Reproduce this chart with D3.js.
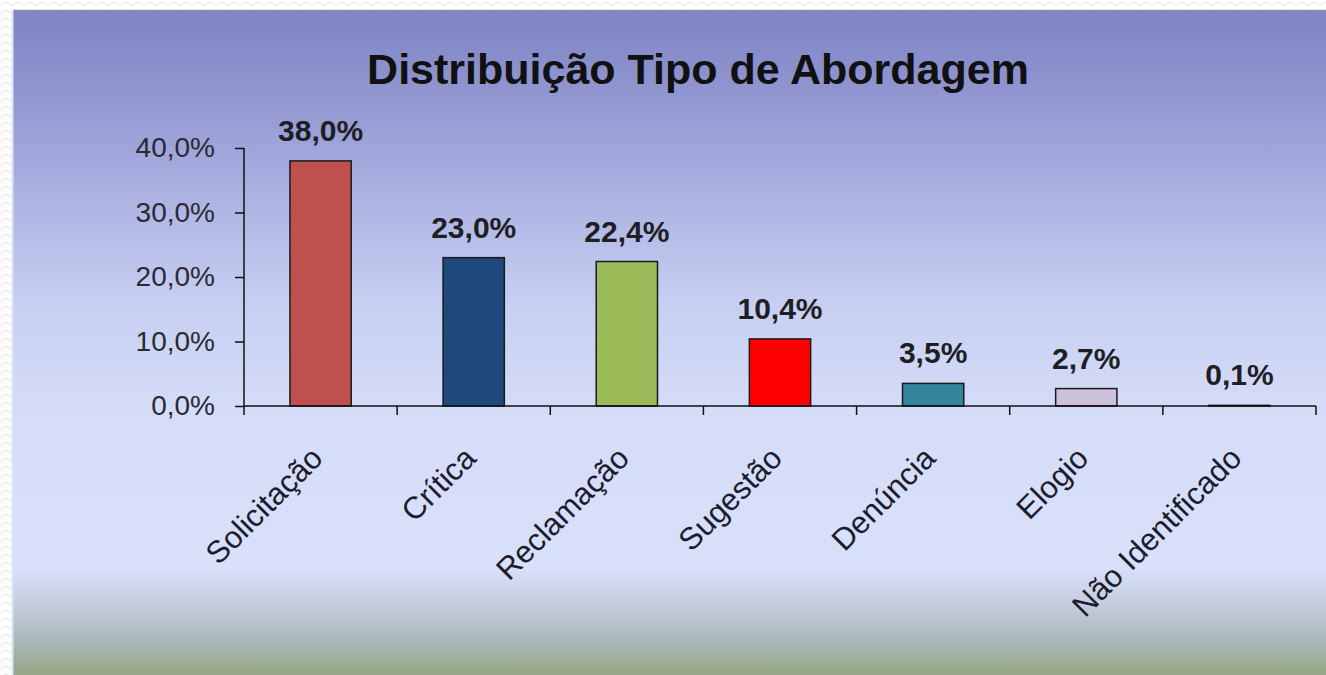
<!DOCTYPE html>
<html>
<head>
<meta charset="utf-8">
<script src="https://cdn.jsdelivr.net/npm/d3@7"></script>
<style>
  body { margin: 0; background: #fff; }
  svg { display: block; font-family: "Liberation Sans", Arial, sans-serif; }
</style>
</head>
<body>
<svg id="chart" width="1326" height="675"></svg>
<script>
// chart data
var categories = ["Solicitação", "Crítica", "Reclamação", "Sugestão", "Denúncia", "Elogio", "Não Identificado"];
var values = [38.0, 23.0, 22.4, 10.4, 3.5, 2.7, 0.1];
var barColors = ["#c0504d", "#1f497d", "#9bbb59", "#ff0000", "#31859c", "#ccc0da", "#000000"];
var yTicks = [0, 10, 20, 30, 40];

var svg = d3.select("#chart");
var defs = svg.append("defs");

// background gradient of the panel
var grad = defs.append("linearGradient")
  .attr("id", "bg")
  .attr("x1", 0).attr("y1", 0).attr("x2", 0).attr("y2", 1);
[[0, "#7e84c4"], [0.14, "#9398d2"], [0.3, "#b0b6e4"], [0.45, "#c8d0f2"], [0.6, "#d4dcf8"],
 [0.84, "#d8e0fa"], [0.89, "#c6cee0"], [0.95, "#aab8b8"], [1, "#94a684"]].forEach(function (s) {
  grad.append("stop").attr("offset", s[0]).attr("stop-color", s[1]);
});

// faint zigzag pattern outside the panel
var pat = defs.append("pattern")
  .attr("id", "zig")
  .attr("width", 12).attr("height", 8)
  .attr("patternUnits", "userSpaceOnUse");
pat.append("path")
  .attr("d", "M0,6 L6,2 L12,6")
  .attr("fill", "none")
  .attr("stroke", "#ececec")
  .attr("stroke-width", 1.5);
svg.append("rect").attr("width", 1326).attr("height", 675).attr("fill", "url(#zig)");

svg.append("rect")
  .attr("x", 12).attr("y", 10)
  .attr("width", 1314).attr("height", 665)
  .attr("fill", "url(#bg)");
svg.append("line")
  .attr("x1", 12).attr("x2", 1326).attr("y1", 10.5).attr("y2", 10.5)
  .attr("stroke", "#8c90a8").attr("stroke-width", 1.5);
svg.append("line")
  .attr("x1", 12.5).attr("x2", 12.5).attr("y1", 10).attr("y2", 675)
  .attr("stroke", "#dfe3f5").attr("stroke-width", 2);

// title
svg.append("text")
  .attr("x", 698)
  .attr("y", 84)
  .attr("text-anchor", "middle")
  .style("font-weight", "bold")
  .style("font-size", "43px")
  .attr("fill", "#111")
  .text("Distribuição Tipo de Abordagem");

// plot area
var margin = { top: 148, left: 244 },
  width = 1316 - margin.left,
  height = 406 - margin.top;

var chart = svg.append("g")
  .attr("transform", "translate(" + margin.left + "," + margin.top + ")");

var xScale = d3.scaleBand().domain(categories).range([0, width]).paddingInner(0.6).paddingOuter(0.3);
var yScale = d3.scaleLinear().domain([0, 40]).range([height, 0]);

function pct(d) { return d.toFixed(1).replace(".", ",") + "%"; }

// y axis
var yAxisGen = d3.axisLeft(yScale)
  .tickValues(yTicks)
  .tickFormat(pct)
  .tickSize(9)
  .tickPadding(20);
var yAxis = chart.append("g").call(yAxisGen);
yAxis.select(".domain").attr("stroke", "#111").attr("stroke-width", 1.5).attr("d", "M0,0V" + height);
yAxis.selectAll(".tick line").attr("stroke", "#111").attr("stroke-width", 1.5);
yAxis.selectAll(".tick text")
  .style("font-size", "28px")
  .attr("fill", "#2a2a33");

// bars
chart.selectAll(".bar")
  .data(values)
  .enter()
  .append("rect")
  .attr("class", "bar")
  .attr("x", function (d, i) { return xScale(categories[i]); })
  .attr("y", function (d) { return yScale(d); })
  .attr("width", xScale.bandwidth())
  .attr("height", function (d) { return height - yScale(d); })
  .attr("fill", function (d, i) { return barColors[i]; })
  .attr("stroke", "#1a1a1a")
  .attr("stroke-width", 1.5);

// x axis with ticks between categories
var xAxis = chart.append("g").attr("transform", "translate(0," + height + ")");
xAxis.append("line")
  .attr("x1", 0).attr("x2", width)
  .attr("stroke", "#111").attr("stroke-width", 1.5);
xAxis.selectAll(".xtick")
  .data(d3.range(categories.length + 1))
  .enter()
  .append("line")
  .attr("x1", function (d) { return d * width / categories.length; })
  .attr("x2", function (d) { return d * width / categories.length; })
  .attr("y1", 0).attr("y2", 9)
  .attr("stroke", "#111").attr("stroke-width", 1.5);

// category labels, rotated
xAxis.selectAll(".xlabel")
  .data(categories)
  .enter()
  .append("text")
  .attr("text-anchor", "end")
  .attr("transform", function (d) {
    var cx = xScale(d) + xScale.bandwidth() / 2 + 4;
    return "translate(" + cx + ",54) rotate(-45)";
  })
  .style("font-size", "31px")
  .attr("fill", "#1c1c2c")
  .text(function (d) { return d; });

// value labels
chart.selectAll(".vlabel")
  .data(values)
  .enter()
  .append("text")
  .attr("x", function (d, i) { return xScale(categories[i]) + xScale.bandwidth() / 2; })
  .attr("y", function (d) { return yScale(d) - 20; })
  .attr("text-anchor", "middle")
  .style("font-weight", "bold")
  .style("font-size", "30px")
  .attr("fill", "#1e1e24")
  .text(pct);
</script>
</body>
</html>
